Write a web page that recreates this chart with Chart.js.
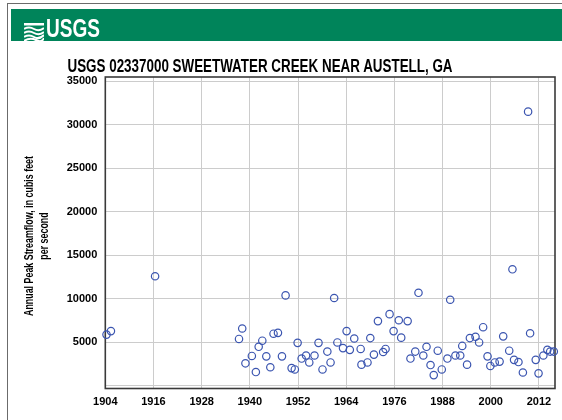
<!DOCTYPE html>
<html>
<head>
<meta charset="utf-8">
<script src="https://cdn.jsdelivr.net/npm/chart.js@4/dist/chart.umd.min.js"></script>
<style>
  html, body { margin: 0; padding: 0; background: #fff; }
  #wrap { position: relative; width: 562px; height: 420px; overflow: hidden; font-family: "Liberation Sans", Arial, sans-serif; }
  #chart { position: absolute; left: 0; top: 0; }
  #frame { position: absolute; left: 7px; top: 3px; width: 600px; height: 500px; border-left: 1px solid #6b6b6b; border-top: 1px solid #6b6b6b; }
  #bar { position: absolute; left: 11px; top: 9px; width: 551px; height: 32px; background: #00845a; }
  #logoText { position: absolute; left: 35px; top: 5px; color: #fff; font-weight: bold; font-size: 26px; line-height: 28px; transform-origin: 0 50%; white-space: nowrap; }
  #waves { position: absolute; left: 13px; top: 14px; }
  #title { position: absolute; left: 260px; top: 66px; font-weight: bold; font-size: 18.5px; color: #000; white-space: nowrap; transform-origin: 50% 50%; }
  #ytitle { position: absolute; left: 37px; top: 236px; font-weight: bold; font-size: 12.5px; line-height: 15px; text-align: center; color: #000; white-space: nowrap; }
</style>
</head>
<body>
<div id="wrap">
  <canvas id="chart" width="562" height="420"></canvas>
  <div id="frame"></div>
  <div id="bar">
    <svg id="waves" width="20" height="19" viewBox="0 0 20 19">
      <rect x="0" y="0" width="20" height="2.5" fill="#fff"/>
      <path d="M0 6 Q5 3 10 6 T20 5" stroke="#fff" stroke-width="2" fill="none"/>
      <path d="M0 10 Q5 7 10 10 T20 9" stroke="#fff" stroke-width="2" fill="none"/>
      <path d="M0 14 Q5 11 10 14 T20 12" stroke="#fff" stroke-width="2" fill="none"/>
      <path d="M0 18 Q6 14 12 17 T20 15" stroke="#fff" stroke-width="2" fill="none"/>
    </svg>
    <div id="logoText">USGS</div>
  </div>
  <div id="title">USGS 02337000 SWEETWATER CREEK NEAR AUSTELL, GA</div>
  <div id="ytitle"><span id="yl1">Annual Peak Streamflow, in cubis feet</span><br>per second</div>
</div>
<script>
// years (peak dates, so not always whole years)
const years = [
  1904.3, 1905.4, 1916.4, 1937.3, 1938.1, 1938.9, 1940.5, 1941.5, 1942.2, 1943.1,
  1944.1, 1945.1, 1945.9, 1947.0, 1948.0, 1948.9, 1950.4, 1951.2, 1951.9, 1952.9,
  1954.0, 1954.8, 1956.1, 1957.1, 1958.1, 1959.3, 1960.1, 1961.0, 1961.8, 1963.2,
  1964.1, 1964.9, 1966.0, 1967.6, 1967.8, 1969.3, 1970.0, 1970.9, 1971.9, 1973.2,
  1973.8, 1974.8, 1975.8, 1977.1, 1977.7, 1979.3, 1980.0, 1981.2, 1982.0, 1983.2,
  1984.0, 1985.0, 1985.8, 1986.8, 1987.8, 1989.2, 1989.9, 1991.2, 1992.4, 1992.9,
  1994.1, 1994.8, 1996.2, 1997.1, 1998.1, 1999.2, 1999.9, 2001.0, 2002.2, 2003.1,
  2004.6, 2005.4, 2005.8, 2006.9, 2008.0, 2009.3, 2009.8, 2011.2, 2011.9, 2013.1,
  2014.1, 2014.8, 2015.7
];
// annual peak streamflow, cubic feet per second
const peaks = [
  5900, 6300, 12600, 5400, 6600, 2600, 3450, 1600, 4500, 5200,
  3400, 2150, 6000, 6100, 3400, 10400, 2050, 1900, 4950, 3150,
  3500, 2700, 3500, 4950, 1900, 3950, 2700, 10100, 5000, 4350,
  6300, 4150, 5450, 4250, 2450, 2700, 5500, 3600, 7450, 3900,
  4250, 8250, 6300, 7550, 5550, 7450, 3150, 3950, 10700, 3500,
  4500, 2400, 1250, 4050, 1900, 3150, 9900, 3500, 3500, 4600,
  2450, 5500, 5650, 5000, 6750, 3400, 2300, 2700, 2800, 5700,
  4050, 13400, 3000, 2750, 1550, 31500, 6050, 3000, 1450, 3500,
  4150, 3950, 3950
];
const xTicks = [1904, 1916, 1928, 1940, 1952, 1964, 1976, 1988, 2000, 2012];
const yTicks = [0, 5000, 10000, 15000, 20000, 25000, 30000, 35000];

// squeeze text to the narrow widths of the original
function fitWidth(el, target, extra) {
  const w = el.getBoundingClientRect().width;
  const f = target / w;
  el.style.transform = (extra || '') + ' scaleX(' + f + ')';
}
fitWidth(document.getElementById('logoText'), 54);
const t = document.getElementById('title');
fitWidth(t, 385, 'translate(-50%,-50%)');
const yt = document.getElementById('ytitle');
const l1 = document.getElementById('yl1').getBoundingClientRect().width;
yt.style.transform = 'translate(-50%,-50%) rotate(-90deg) scaleX(' + (160 / l1) + ')';

const plotFrame = {
  id: 'plotFrame',
  beforeDatasetsDraw(chart) {
    const a = chart.chartArea, ctx = chart.ctx;
    ctx.save();
    ctx.strokeStyle = '#3a3a3a';
    ctx.lineWidth = 1.6;
    ctx.strokeRect(a.left, a.top, a.right - a.left, a.bottom - a.top);
    ctx.restore();
  }
};

const tickFont = { family: '"Liberation Sans", Arial, sans-serif', size: 11, weight: 'bold' };

new Chart(document.getElementById('chart').getContext('2d'), {
  type: 'scatter',
  data: {
    datasets: [{
      data: years.map((y, i) => ({ x: y, y: peaks[i] })),
      pointStyle: 'circle',
      pointRadius: 3.7,
      borderColor: '#3b55b0',
      backgroundColor: 'rgba(255,255,255,0)',
      borderWidth: 1.2,
      clip: false
    }]
  },
  options: {
    responsive: false,
    animation: false,
    layout: { padding: { top: 77, right: 7, left: 0, bottom: 0 } },
    plugins: { legend: { display: false }, tooltip: { enabled: false } },
    scales: {
      x: {
        type: 'linear',
        min: 1904,
        max: 2016,
        afterBuildTicks: s => { s.ticks = xTicks.map(v => ({ value: v })); },
        afterFit: s => { s.height = 31.5; },
        ticks: { font: tickFont, color: '#000', padding: 7, maxRotation: 0, callback: v => String(v) },
        grid: { color: '#cccccc', lineWidth: 1, drawTicks: false },
        border: { display: false }
      },
      y: {
        min: -290,
        max: 35480,
        afterBuildTicks: s => { s.ticks = yTicks.map(v => ({ value: v })); },
        afterFit: s => { s.width = 105.3; },
        ticks: {
          font: tickFont, color: '#000', padding: 8,
          callback: v => v === 0 ? '' : String(v)
        },
        grid: { color: '#cccccc', lineWidth: 1, drawTicks: false },
        border: { display: false }
      }
    }
  },
  plugins: [plotFrame]
});
</script>
</body>
</html>
